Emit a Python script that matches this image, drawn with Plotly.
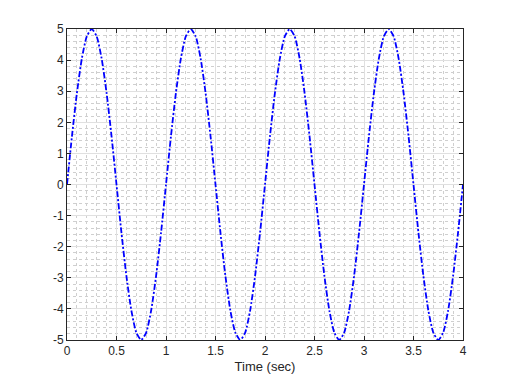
import plotly.graph_objects as go

t = [0.0, 0.05, 0.1, 0.15, 0.2, 0.25, 0.3, 0.35, 0.4, 0.45,
     0.5, 0.55, 0.6, 0.65, 0.7, 0.75, 0.8, 0.85, 0.9, 0.95,
     1.0, 1.05, 1.1, 1.15, 1.2, 1.25, 1.3, 1.35, 1.4, 1.45,
     1.5, 1.55, 1.6, 1.65, 1.7, 1.75, 1.8, 1.85, 1.9, 1.95,
     2.0, 2.05, 2.1, 2.15, 2.2, 2.25, 2.3, 2.35, 2.4, 2.45,
     2.5, 2.55, 2.6, 2.65, 2.7, 2.75, 2.8, 2.85, 2.9, 2.95,
     3.0, 3.05, 3.1, 3.15, 3.2, 3.25, 3.3, 3.35, 3.4, 3.45,
     3.5, 3.55, 3.6, 3.65, 3.7, 3.75, 3.8, 3.85, 3.9, 3.95, 4.0]
y = [0, 1.55, 2.94, 4.05, 4.76, 5, 4.76, 4.05, 2.94, 1.55,
     0, -1.55, -2.94, -4.05, -4.76, -5, -4.76, -4.05, -2.94, -1.55,
     0, 1.55, 2.94, 4.05, 4.76, 5, 4.76, 4.05, 2.94, 1.55,
     0, -1.55, -2.94, -4.05, -4.76, -5, -4.76, -4.05, -2.94, -1.55,
     0, 1.55, 2.94, 4.05, 4.76, 5, 4.76, 4.05, 2.94, 1.55,
     0, -1.55, -2.94, -4.05, -4.76, -5, -4.76, -4.05, -2.94, -1.55,
     0, 1.55, 2.94, 4.05, 4.76, 5, 4.76, 4.05, 2.94, 1.55,
     0, -1.55, -2.94, -4.05, -4.76, -5, -4.76, -4.05, -2.94, -1.55, 0]

x_ticks = [0, 0.5, 1, 1.5, 2, 2.5, 3, 3.5, 4]
x_labels = ["0", "0.5", "1", "1.5", "2", "2.5", "3", "3.5", "4"]
y_ticks = [-5, -4, -3, -2, -1, 0, 1, 2, 3, 4, 5]
y_labels = ["-5", "-4", "-3", "-2", "-1", "0", "1", "2", "3", "4", "5"]

FONT = "Liberation Sans, Arial"

fig = go.Figure()
fig.add_trace(go.Scatter(x=t, y=y, mode="lines",
                         line=dict(color="#0000ff", width=1.8, dash="6px,2px,2px,2px",
                                   shape="spline", smoothing=0.6),
                         showlegend=False))

axis_common = dict(
    showline=True, linecolor="#262626", linewidth=1, mirror="ticks",
    ticks="inside", ticklen=4, tickcolor="#262626",
    showgrid=True, gridcolor="#e0e0e0", gridwidth=1,
    zeroline=False,
    tickfont=dict(family=FONT, size=12, color="#262626"),
)

fig.update_xaxes(range=[0, 4], tickmode="array", tickvals=x_ticks, ticktext=x_labels,
                 minor=dict(dtick=0.1, tick0=0, showgrid=True, griddash="dot",
                            gridcolor="#cfcfcf", gridwidth=1, ticks=""),
                 title=dict(text="Time (sec)", font=dict(family=FONT, size=13, color="#262626"),
                            standoff=4),
                 **axis_common)
fig.update_yaxes(range=[-5, 5], tickmode="array", tickvals=y_ticks, ticktext=y_labels,
                 minor=dict(dtick=0.2, tick0=0, showgrid=True, griddash="dot",
                            gridcolor="#cfcfcf", gridwidth=1, ticks=""),
                 **axis_common)

fig.update_layout(width=512, height=384, margin=dict(l=67, r=49, t=29, b=42),
                  paper_bgcolor="white", plot_bgcolor="white")

fig.write_html("out.html")
